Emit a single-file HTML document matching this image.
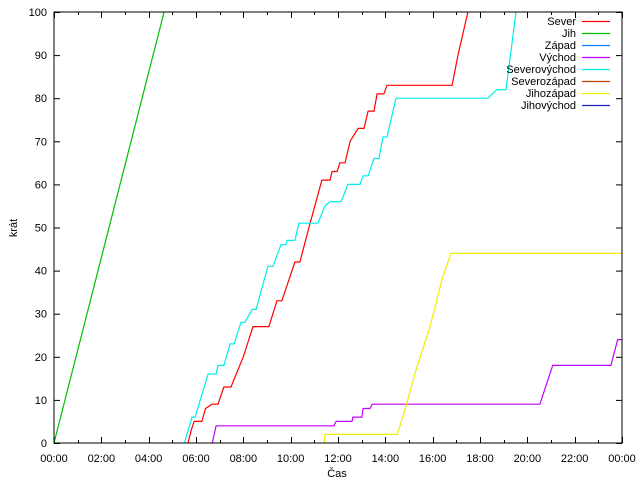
<!DOCTYPE html>
<html><head><meta charset="utf-8"><style>
html,body{margin:0;padding:0;background:#fff}
svg{display:block}
text{font-family:"Liberation Sans",sans-serif;font-size:11px;fill:#000}
</style></head><body>
<svg id="chart" width="640" height="480" xmlns="http://www.w3.org/2000/svg">
<rect x="0" y="0" width="640" height="480" fill="#fff"/>
<g id="grid"></g>
<g id="series"></g>
<rect x="54" y="12" width="568" height="431" fill="none" stroke="#000" stroke-width="1"/>
<text x="337" y="477" text-anchor="middle">Čas</text>
<text transform="translate(17,228) rotate(-90)" text-anchor="middle">krát</text>
<g id="legend"></g>
</svg>
<script>
const xTickLabels = ["00:00","02:00","04:00","06:00","08:00","10:00","12:00","14:00","16:00","18:00","20:00","22:00","00:00"];
const yTicks = [0,10,20,30,40,50,60,70,80,90,100];
const seriesNames = ["Sever","Jih","Západ","Východ","Severovýchod","Severozápad","Jihozápad","Jihovýchod"];
const seriesColors = ["#ff0000","#00c000","#0080ff","#c000ff","#00eeee","#c04000","#eeee00","#2020c0"];
const sever = [[5.66,0],[5.8,3],[5.92,5],[6.25,5],[6.4,8],[6.68,9],[6.93,9],[7.18,13],[7.48,13],[8.0,20],[8.41,27],[9.08,27],[9.42,33],[9.63,33],[10.18,42],[10.39,42],[10.82,51],[11.32,61],[11.66,61],[11.75,63],[11.96,63],[12.08,65],[12.30,65],[12.51,70],[12.85,73],[13.10,73],[13.27,77],[13.52,77],[13.65,81],[13.94,81],[14.07,83],[16.82,83],[17.07,90],[17.49,100]];
const jih = [[0,0],[4.65,100]];
const vychod = [[6.69,0],[6.85,4],[11.83,4],[11.92,5],[12.59,5],[12.63,6],[13.01,6],[13.06,8],[13.35,8],[13.45,9],[20.53,9],[21.07,18],[23.53,18],[23.82,24],[24,24]];
const severovychod = [[5.51,0],[5.83,6],[5.96,6],[6.51,16],[6.85,16],[6.93,18],[7.18,18],[7.44,23],[7.61,23],[7.90,28],[8.07,28],[8.37,31],[8.54,31],[9.04,41],[9.25,41],[9.59,46],[9.80,46],[9.85,47],[10.18,47],[10.35,51],[11.15,51],[11.45,55],[11.66,56],[12.13,56],[12.42,60],[12.93,60],[13.06,62],[13.27,62],[13.52,66],[13.73,66],[13.90,71],[14.07,71],[14.45,80],[18.34,80],[18.72,82],[19.10,82],[19.52,100]];
const jihozapad = [[11.42,0],[11.45,2],[14.51,2],[14.9,9],[15.3,17],[15.89,27],[16.4,38],[16.77,44],[24,44]];
const plotted = [
  {data: sever, color: 0, name: "sever"},
  {data: jih, color: 1, name: "jih"},
  {data: vychod, color: 3, name: "vychod"},
  {data: severovychod, color: 4, name: "severovychod"},
  {data: jihozapad, color: 6, name: "jihozapad"}
];
const NS = "http://www.w3.org/2000/svg";
const X0 = 54, X1 = 622, Y0 = 443, Y1 = 12;
function xs(h){ return X0 + h/24*(X1-X0); }
function ys(v){ return Y0 - v/100*(Y0-Y1); }
function mk(tag, attrs, parent){ const e=document.createElementNS(NS,tag); for(const k in attrs) e.setAttribute(k,attrs[k]); parent.appendChild(e); return e; }
const grid = document.getElementById("grid");
yTicks.forEach(v=>{
  const y = ys(v)+0.5;
  const t1 = mk("line",{x1:X0,x2:X0+6,y1:y,y2:y,stroke:"#000"},grid);
  
  
  const t2 = mk("line",{x1:X1-6,x2:X1,y1:y,y2:y,stroke:"#000"},grid);
  
  
  const lb = mk("text",{x:47,y:ys(v)+4,"text-anchor":"end"},grid);
  lb.textContent = v;
  
  
});
for(let h=0; h<=24; h++){
  const x = Math.round(xs(h))+0.5, len = h%2===0?6:3;
  const t1 = mk("line",{x1:x,x2:x,y1:Y0,y2:Y0-len,stroke:"#000"},grid);
  
  
  const t2 = mk("line",{x1:x,x2:x,y1:Y1,y2:Y1+len,stroke:"#000"},grid);
  
  
}
xTickLabels.forEach((s,i)=>{
  const lb = mk("text",{x:xs(i*2),y:462,"text-anchor":"middle"},grid);
  lb.textContent = s;
  
  
});
const sg = document.getElementById("series");
plotted.forEach(s=>{
  const pts = s.data.map(p=>xs(p[0]).toFixed(1)+","+ys(Math.min(p[1],100)).toFixed(1)).join(" ");
  const pl = mk("polyline",{points:pts,fill:"none",stroke:seriesColors[s.color],"stroke-width":1.2},sg);
  
  
});
const lg = document.getElementById("legend");
seriesNames.forEach((n,i)=>{
  const y = 21 + i*12;
  const t = mk("text",{x:576,y:y+4,"text-anchor":"end"},lg);
  t.textContent = n;
  
  
  const l = mk("line",{x1:582,x2:610,y1:y+0.5,y2:y+0.5,stroke:seriesColors[i],"stroke-width":1.2},lg);
  
  
});
</script>
</body></html>
